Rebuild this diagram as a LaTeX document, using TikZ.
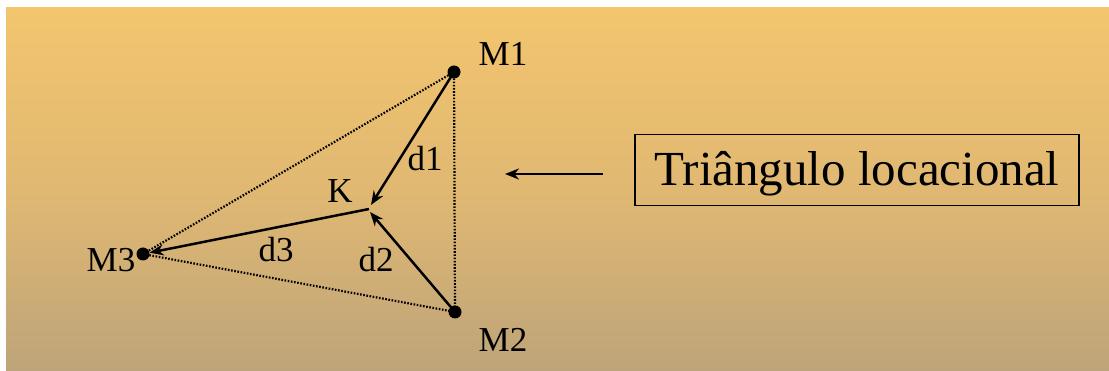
\documentclass[tikz,border=0pt]{standalone}
\usepackage{fontspec}
\setmainfont{Liberation Serif}
\usetikzlibrary{arrows.meta}
\definecolor{bgtop}{RGB}{243,197,110}
\definecolor{bgmid}{RGB}{224,184,114}
\definecolor{bgbot}{RGB}{190,164,122}
\tikzset{
  lbl/.style={font=\fontsize{35}{35}\selectfont, anchor=base, inner sep=0pt},
  dot/.style={circle, fill=black, minimum size=13pt, inner sep=0pt},
  solidarrow/.style={line width=2.5pt, -{Stealth[length=14pt,width=11pt]}},
  dotline/.style={line width=2.2pt, dash pattern=on 1.6pt off 1.6pt},
  boxnode/.style={draw=black, line width=1.6pt, minimum width=444pt, minimum height=71pt, inner sep=0pt},
}
\begin{document}
\begin{tikzpicture}[x=1pt,y=-1pt]
\useasboundingbox (0,0) rectangle (1109,371);
\fill[white] (0,0) rectangle (1109,371);
\shade[top color=bgtop, bottom color=bgbot, middle color=bgmid] (6,8) rectangle (1109,371);
% points
\node[dot] (M1) at (454,72) {};
\node[dot] (M2) at (455,312) {};
\node[dot] (M3) at (143,254) {};
\coordinate (K) at (369,209);
\coordinate (K1) at (371,205);
\coordinate (K2) at (370,212);
% dotted triangle
\draw[dotline] (M1.center) -- (M3.center);
\draw[dotline] (M1.center) -- (M2.center);
\draw[dotline] (M3.center) -- (M2.center);
% solid arrows
\draw[solidarrow] (M1.center) -- (K1);
\draw[solidarrow] (M2.center) -- (K2);
\draw[solidarrow] (K) -- (M3);
% labels
\node[lbl] (lM1) at (503,66) {M1};
\node[lbl] (lM2) at (503,352) {M2};
\node[lbl] (lM3) at (111,272) {M3};
\node[lbl] (lK) at (340,203) {K};
\node[lbl] (ld1) at (425,171) {d1};
\node[lbl] (ld2) at (376,272) {d2};
\node[lbl] (ld3) at (276,262) {d3};
% box and arrow
\node[boxnode] (box) at (857,170) {};
\node[font=\fontsize{49}{49}\selectfont, anchor=base, inner sep=0pt] (tri) at (857,186) {Triângulo locacional};
\coordinate (arrStart) at (603,174);
\draw[line width=2.5pt, -{Stealth[length=14pt,width=11pt]}] (arrStart) -- (505,174);
\end{tikzpicture}
\end{document}
